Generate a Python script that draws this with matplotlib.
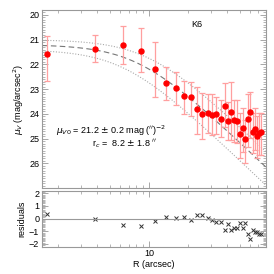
import numpy as np
import matplotlib
matplotlib.use("Agg")
import matplotlib.pyplot as plt
from matplotlib.ticker import FixedLocator, FuncFormatter, MultipleLocator, LogLocator, NullFormatter

# ---- data ----
radius = [1.65, 3.83, 6.28, 8.68, 11.1, 13.6, 16.1, 18.6, 21.0, 23.5,
          25.9, 28.4, 30.9, 33.2, 35.7, 38.3, 40.7, 43.3, 45.7, 48.1,
          50.6, 53.1, 55.5, 58.3, 60.6, 63.3, 65.9, 68.4, 70.8, 73.4]
mu = [21.59, 21.39, 21.21, 21.45, 22.17, 22.77, 22.97, 23.29, 23.30, 23.81,
      24.02, 23.98, 24.06, 24.01, 24.20, 23.70, 24.28, 23.92, 24.26, 24.28,
      24.83, 24.56, 25.00, 24.20, 23.93, 24.74, 24.60, 24.90, 24.78, 24.75]
err_lo = [0.74, 0.58, 0.76, 0.91, 1.09, 0.67, 0.67, 0.60, 0.60, 0.90,
          0.85, 0.80, 0.85, 0.70, 0.75, 0.95, 0.77, 1.20, 0.82, 0.85,
          0.85, 0.80, 0.75, 1.02, 0.83, 0.76, 0.82, 0.80, 0.80, 0.80]
err_hi = [1.10, 0.52, 0.78, 0.85, 1.14, 0.67, 0.67, 0.70, 0.80, 1.00,
          1.00, 0.80, 0.80, 0.80, 0.72, 0.82, 0.78, 1.15, 0.87, 0.90,
          0.97, 0.97, 1.00, 1.13, 1.06, 0.85, 0.87, 0.90, 0.90, 0.90]
residuals = [0.33, -0.04, -0.48, -0.59, -0.16, 0.14, 0.06, 0.14, -0.08, 0.25,
             0.30, 0.02, -0.09, -0.27, -0.27, -0.90, -0.43, -0.90, -0.72, -0.77,
             -0.38, -0.77, -0.38, -1.23, -1.60, -0.90, -1.02, -1.08, -1.21, -1.23]

# fitted King-profile parameters (as quoted in the panel)
mu0, mu0_err = 21.2, 0.2
rc, rc_err = 8.2, 1.8

x_ticks = [10]
y_ticks_top = [20, 21, 22, 23, 24, 25, 26]
y_ticks_res = [-2, -1, 0, 1, 2]

plt.rcParams['font.family'] = ['Liberation Sans', 'DejaVu Sans']
plt.rcParams['font.size'] = 6.5

W = 274
fig = plt.figure(figsize=(2.74, 2.74), dpi=100)
frame_col = '#999999'

def px(l, t, r, b):
    return [l / W, 1 - b / W, (r - l) / W, (b - t) / W]

ax = fig.add_axes(px(42, 10, 266, 188))
axr = fig.add_axes(px(42, 190.7, 266, 246.5), sharex=ax)

def king(r, m0, c):
    return m0 + 2.5 * np.log10(1 + (r / c) ** 2)

rr = np.logspace(np.log10(1.5), np.log10(80), 300)
ax.plot(rr, king(rr, mu0, rc), color='#777777', lw=0.8, ls=(0, (5, 3)))
ax.plot(rr, king(rr, mu0 - mu0_err, rc + rc_err), color='#aaaaaa', lw=0.8, ls=(0, (1, 1.5)))
ax.plot(rr, king(rr, mu0 + mu0_err, rc - rc_err), color='#aaaaaa', lw=0.8, ls=(0, (1, 1.5)))

ax.errorbar(radius, mu, yerr=[err_lo, err_hi], fmt='o', color='red', ms=3.6,
            ecolor='#ff9f9f', elinewidth=0.9, capsize=2.0, capthick=0.9, zorder=3)

ax.set_xscale('log')
ax.set_xlim(1.5, 80)
ax.set_ylim(27, 19.8)
ax.set_yticks(y_ticks_top)
ax.yaxis.set_minor_locator(MultipleLocator(0.1))
ax.text(0.69, 0.92, 'K6', transform=ax.transAxes, fontsize=6.5, ha='center', va='center')
ax.text(0.0625, 0.32, r'$\mu_{V0}$ = 21.2 $\pm$ 0.2 mag ($^{\prime\prime}$)$^{-2}$',
        transform=ax.transAxes, fontsize=6.5, va='center')
ax.text(0.223, 0.247, r'r$_c$ =  8.2 $\pm$ 1.8 $^{\prime\prime}$',
        transform=ax.transAxes, fontsize=6.5, va='center')
ax.set_ylabel(r'$\mu_V$ (mag/arcsec$^2$)', labelpad=2)

axr.plot(radius, residuals, 'x', color='#333333', ms=2.8, mew=0.7)
axr.axhline(0, color='#999999', lw=0.8)
axr.set_ylim(-2.2, 2.2)
axr.set_yticks(y_ticks_res)
axr.yaxis.set_minor_locator(MultipleLocator(0.1))
axr.set_ylabel('residuals', labelpad=2)
axr.set_xlabel('R (arcsec)', labelpad=1)

for a in (ax, axr):
    a.xaxis.set_major_locator(FixedLocator(x_ticks))
    a.xaxis.set_minor_locator(LogLocator(base=10, subs=np.arange(2, 10)))
    a.xaxis.set_minor_formatter(NullFormatter())
    a.xaxis.set_major_formatter(FuncFormatter(lambda v, p: '%d' % v))
    a.tick_params(which='both', direction='in', top=True, right=True,
                  color=frame_col, labelsize=6.5, pad=2)
    a.tick_params(which='major', length=4, width=0.6)
    a.tick_params(which='minor', length=2, width=0.5)
    for s in a.spines.values():
        s.set_color(frame_col)
        s.set_linewidth(0.8)
plt.setp(ax.get_xticklabels(), visible=False)
fig.align_ylabels([ax, axr])
fig.savefig('out.png', dpi=100)
